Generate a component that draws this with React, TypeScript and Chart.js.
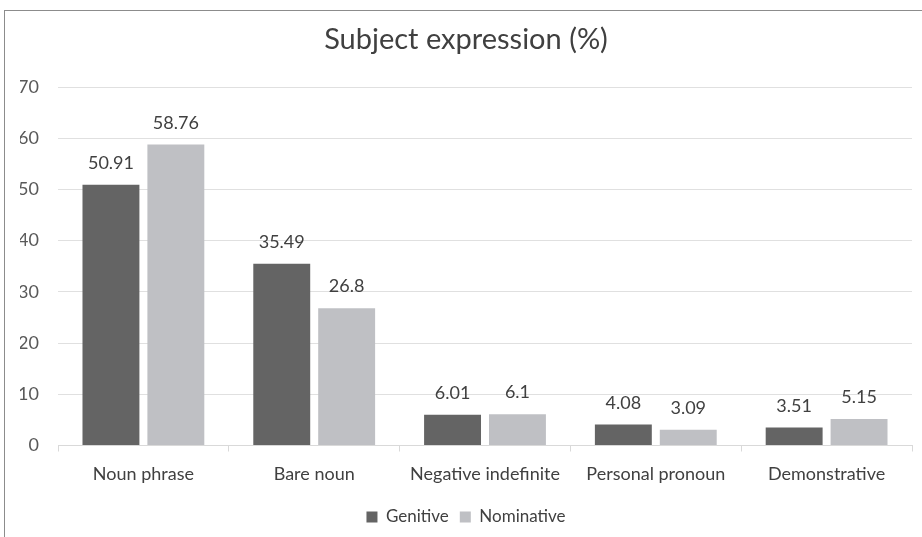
import React, { useEffect, useRef } from "react";
import { Chart, registerables } from "chart.js";

Chart.register(...registerables);

const categories = ["Noun phrase", "Bare noun", "Negative indefinite", "Personal pronoun", "Demonstrative"];
const genitive = [50.91, 35.49, 6.01, 4.08, 3.51];
const nominative = [58.76, 26.8, 6.1, 3.09, 5.15];
const seriesNames = ["Genitive", "Nominative"];
const titleText = "Subject expression (%)";

const FONT = "Lato, 'Open Sans', sans-serif";

const valueLabels = {
  id: "valueLabels",
  afterDatasetsDraw(chart: any) {
    const ctx = chart.ctx;
    ctx.save();
    ctx.font = `18px ${FONT}`;
    ctx.fillStyle = "#404040";
    ctx.textAlign = "center";
    ctx.textBaseline = "alphabetic";
    chart.data.datasets.forEach((ds: any, i: number) => {
      const meta = chart.getDatasetMeta(i);
      meta.data.forEach((bar: any, j: number) => {
        ctx.fillText(String(ds.data[j]), bar.x, bar.y - 16);
      });
    });
    ctx.restore();
  },
};

export default function App() {
  const ref = useRef<HTMLCanvasElement>(null);
  useEffect(() => {
    document.body.style.margin = "0";
    const chart = new Chart(ref.current!, {
      type: "bar",
      data: {
        labels: categories,
        datasets: [
          { label: seriesNames[0], data: genitive, backgroundColor: "#646464" },
          { label: seriesNames[1], data: nominative, backgroundColor: "#bfc0c4" },
        ],
      },
      options: {
        animation: false,
        responsive: false,
        maintainAspectRatio: false,
        layout: { padding: { left: 20, right: 10, top: 10, bottom: 1.5 } },
        datasets: { bar: { categoryPercentage: 0.76, barPercentage: 0.877 } } as any,
        plugins: {
          title: {
            display: true,
            text: titleText,
            color: "#404040",
            font: { family: FONT, size: 29, weight: "normal" },
            padding: { top: 12.6, bottom: 29.6 },
          },
          legend: {
            position: "bottom",
            labels: {
              boxWidth: 11,
              boxHeight: 11,
              color: "#404040",
              font: { family: FONT, size: 17 },
              padding: 11,
            },
          },
          tooltip: { enabled: false },
        },
        scales: {
          x: {
            grid: { display: true, drawOnChartArea: false, drawTicks: true, tickLength: 6, color: "#d9d9d9" },
            border: { color: "#d9d9d9" },
            ticks: { color: "#404040", font: { family: FONT, size: 18 }, padding: 12.2, maxRotation: 0 },
          },
          y: {
            min: 0,
            max: 70,
            afterFit: (s: any) => { s.width = 38; },
            grid: { color: "#e0e0e0", drawTicks: false },
            border: { display: false },
            ticks: { stepSize: 10, color: "#595959", font: { family: FONT, size: 18 }, padding: 19 },
          },
        },
      },
      plugins: [valueLabels],
    });
    return () => chart.destroy();
  }, []);
  return (
    <div style={{ position: "relative", width: 922, height: 537, overflow: "hidden", background: "#fff" }}>
      <div style={{ position: "absolute", left: 4, top: 10, width: 1000, height: 1000, border: "1px solid #8c8c8c", boxSizing: "border-box" }} />
      <canvas ref={ref} width={922} height={537} style={{ position: "absolute", left: 0, top: 0, width: 922, height: 537 }} />
    </div>
  );
}
